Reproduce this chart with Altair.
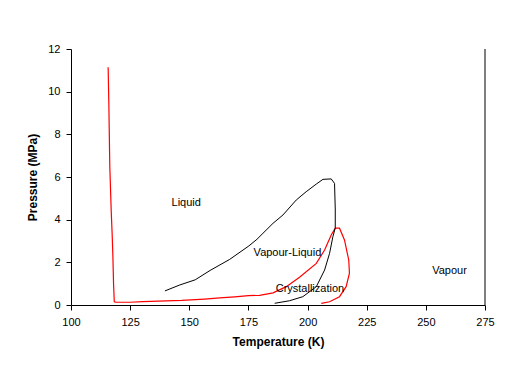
import altair as alt
import pandas as pd

# Red curve (temperature K, pressure MPa)
red_T = [115.7, 116.0, 116.4, 117.0, 117.4, 117.7, 118.0, 118.3, 119.0, 125.0, 130.4,
         146.8, 156.5, 162.9, 169.2, 175.0, 179.7, 185.4, 191.0, 196.6, 203.7, 207.2,
         210.0, 211.7, 213.5, 215.6, 217.4, 217.7, 216.3, 213.5, 209.3, 205.8]
red_P = [11.14, 9.4, 6.5, 4.4, 3.3, 2.3, 0.95, 0.15, 0.13, 0.13, 0.16,
         0.22, 0.28, 0.33, 0.38, 0.44, 0.45, 0.57, 0.86, 1.30, 1.95, 2.58,
         3.28, 3.60, 3.60, 3.05, 2.11, 1.49, 0.86, 0.39, 0.15, 0.08]

# Black curve
blk_T = [139.7, 146.0, 152.5, 158.8, 167.1, 175.2, 178.6, 185.4, 189.6, 195.2, 199.4,
         203.7, 206.5, 210.0, 211.4, 211.7, 211.7, 210.7, 209.3, 207.2, 203.7, 198.0,
         192.4, 186.1]
blk_P = [0.66, 0.94, 1.18, 1.62, 2.14, 2.77, 3.08, 3.83, 4.22, 4.92, 5.31,
         5.67, 5.89, 5.91, 5.70, 4.50, 3.61, 3.20, 2.42, 1.64, 0.86, 0.39,
         0.20, 0.08]

# Region labels
lab_text = ["Liquid", "Vapour-Liquid", "Crystallization", "Vapour"]
lab_T = [142.5, 191.5, 201.0, 260.0]
lab_P = [4.8, 2.42, 0.75, 1.6]
lab_align = ["left", "center", "center", "center"]

x_ticks = [100, 125, 150, 175, 200, 225, 250, 275]
y_ticks = [0, 2, 4, 6, 8, 10, 12]

red_df = pd.DataFrame({"T": red_T, "P": red_P, "o": range(len(red_T))})
blk_df = pd.DataFrame({"T": blk_T, "P": blk_P, "o": range(len(blk_T))})
lab_df = pd.DataFrame({"T": lab_T, "P": lab_P, "t": lab_text, "a": lab_align})

xs = alt.Scale(domain=[100, 275], nice=False, zero=False)
ys = alt.Scale(domain=[0, 12], nice=False)

xax = alt.Axis(values=x_ticks, title="Temperature (K)", grid=False, tickSize=5,
               labelPadding=6, titlePadding=9, labelFlush=False, labelOverlap=False)
yax = alt.Axis(values=y_ticks, title="Pressure (MPa)", grid=False, tickSize=5,
               labelPadding=6, titlePadding=8, labelFlush=False, labelOverlap=False)

red = alt.Chart(red_df).mark_line(color="#ff0000", strokeWidth=1.2).encode(
    x=alt.X("T:Q", scale=xs, axis=xax),
    y=alt.Y("P:Q", scale=ys, axis=yax),
    order="o:Q",
)
blk = alt.Chart(blk_df).mark_line(color="#000000", strokeWidth=1.0).encode(
    x=alt.X("T:Q", scale=xs),
    y=alt.Y("P:Q", scale=ys),
    order="o:Q",
)
labels_left = alt.Chart(lab_df[lab_df.a == "left"]).mark_text(
    align="left", baseline="middle", fontSize=11, font="Liberation Sans", color="black"
).encode(x=alt.X("T:Q", scale=xs), y=alt.Y("P:Q", scale=ys), text="t:N")
labels_center = alt.Chart(lab_df[lab_df.a == "center"]).mark_text(
    align="center", baseline="middle", fontSize=11, font="Liberation Sans", color="black"
).encode(x=alt.X("T:Q", scale=xs), y=alt.Y("P:Q", scale=ys), text="t:N")

right_line = alt.Chart(pd.DataFrame({"T": [275]})).mark_rule(color="black", strokeWidth=1).encode(
    x=alt.X("T:Q", scale=xs), y=alt.value(0), y2=alt.value(256)
)

chart = alt.layer(red, blk, labels_left, labels_center, right_line).properties(
    width=414, height=256,
    autosize=alt.AutoSizeParams(type="none"),
    padding={"left": 63, "top": 41, "right": 30, "bottom": 78},
).configure_view(stroke=None).configure_axis(
    domainColor="black", tickColor="black", labelColor="black", titleColor="black",
    labelFont="Liberation Sans", titleFont="Liberation Sans",
    labelFontSize=11, titleFontSize=12, titleFontWeight="bold",
    domainWidth=1, tickWidth=1,
)

chart.save("out.html", embed_options={"renderer": "svg", "actions": False})
